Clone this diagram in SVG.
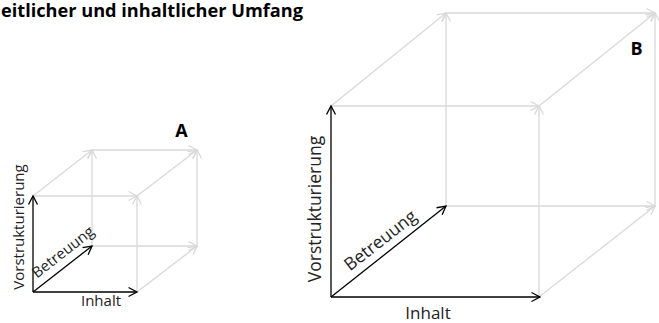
<svg xmlns="http://www.w3.org/2000/svg" width="659" height="323" viewBox="0 0 659 323">
<style>
.g{stroke:#d9d9d9;stroke-width:1.3;fill:none;marker-end:url(#ag)}
.k{stroke:#000;stroke-width:1.3;fill:none;marker-end:url(#ak)}
.t{font-family:"Open Sans","Liberation Sans",sans-serif;fill:#222}
.b{font-family:"Open Sans","Liberation Sans",sans-serif;font-weight:bold;fill:#000}
</style>
<defs>
<marker id="ag" markerUnits="userSpaceOnUse" markerWidth="12" markerHeight="12" refX="9" refY="5" orient="auto" viewBox="0 0 12 10">
<path d="M0.5,0.5 L9,5 L0.5,9.5" fill="none" stroke="#d9d9d9" stroke-width="1.3"/>
</marker>
<marker id="ak" markerUnits="userSpaceOnUse" markerWidth="12" markerHeight="12" refX="9" refY="5" orient="auto" viewBox="0 0 12 10">
<path d="M0.5,0.5 L9,5 L0.5,9.5" fill="none" stroke="#000" stroke-width="1.3"/>
</marker>
</defs>
<g id="title">
<text class="b" x="1" y="17" font-size="17" textLength="302" lengthAdjust="spacingAndGlyphs">eitlicher und inhaltlicher Umfang</text>
</g>
<g id="cube-a">
<g id="cube-a-connectors">
<line class="g" x1="92" y1="246" x2="197" y2="246"/>
<line class="g" x1="92" y1="246" x2="92" y2="150"/>
<line class="g" x1="92" y1="150" x2="197" y2="150"/>
<line class="g" x1="197" y1="246" x2="197" y2="150"/>
<line class="g" x1="33" y1="196" x2="92" y2="150"/>
<line class="g" x1="137" y1="196" x2="197" y2="150"/>
<line class="g" x1="137" y1="292" x2="197" y2="246"/>
<line class="g" x1="33" y1="196" x2="137" y2="196"/>
<line class="g" x1="137" y1="292" x2="137" y2="196"/>
<line class="k" x1="33" y1="292" x2="137" y2="292"/>
<line class="k" x1="33" y1="292" x2="33" y2="196"/>
<line class="k" x1="33" y1="292" x2="92" y2="246"/>
</g>
<text class="b" x="181.5" y="137" font-size="18" text-anchor="middle">A</text>
<text class="t" font-size="15" text-anchor="middle" transform="translate(24,227) rotate(-90)">Vorstrukturierung</text>
<text class="t" font-size="15" text-anchor="middle" transform="translate(66,256) rotate(-38)">Betreuung</text>
<text class="t" x="101" y="306" font-size="15" text-anchor="middle">Inhalt</text>
</g>
<g id="cube-b">
<g id="cube-b-connectors">
<line class="g" x1="446" y1="206" x2="655" y2="206"/>
<line class="g" x1="446" y1="206" x2="446" y2="13"/>
<line class="g" x1="446" y1="13" x2="655" y2="13"/>
<line class="g" x1="655" y1="206" x2="655" y2="13"/>
<line class="g" x1="331" y1="106" x2="446" y2="13"/>
<line class="g" x1="539" y1="106" x2="655" y2="13"/>
<line class="g" x1="539" y1="297" x2="655" y2="206"/>
<line class="g" x1="331" y1="106" x2="539" y2="106"/>
<line class="g" x1="539" y1="297" x2="539" y2="106"/>
<line class="k" x1="331" y1="297" x2="540" y2="297"/>
<line class="k" x1="331" y1="297" x2="331" y2="106"/>
<line class="k" x1="331" y1="297" x2="446" y2="206"/>
</g>
<text class="b" x="636.5" y="55" font-size="18" text-anchor="middle">B</text>
<text class="t" font-size="17.5" text-anchor="middle" transform="translate(321,209) rotate(-90)">Vorstrukturierung</text>
<text class="t" font-size="17.5" text-anchor="middle" transform="translate(384,245) rotate(-38)">Betreuung</text>
<text class="t" x="428" y="319" font-size="17" text-anchor="middle">Inhalt</text>
</g>
</svg>
